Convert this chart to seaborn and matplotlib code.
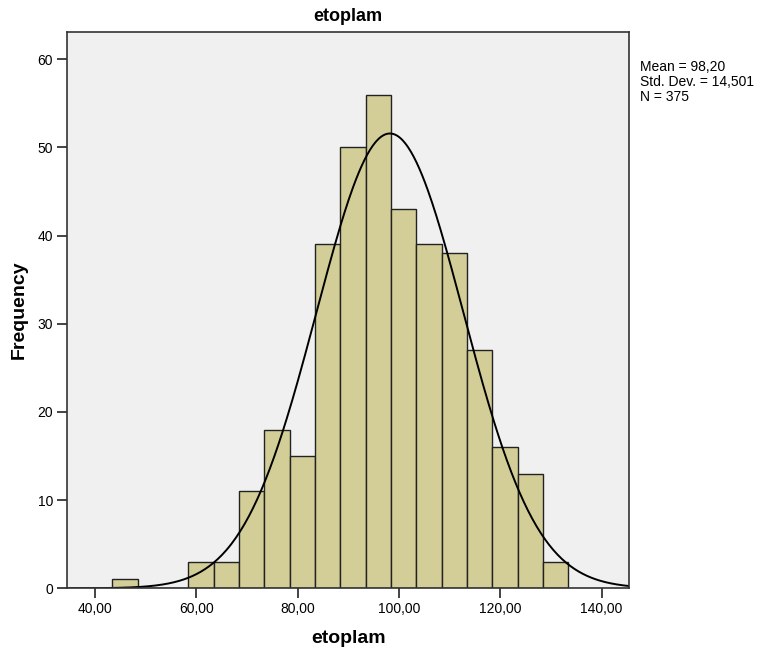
import numpy as np
import pandas as pd
import matplotlib
matplotlib.use("Agg")
import matplotlib.pyplot as plt
import seaborn as sns

# Data
bin_start = 43.45
bin_width = 5.0
counts = [1, 0, 0, 3, 3, 11, 18, 15, 39, 50, 56, 43, 39, 38, 27, 16, 13, 3]
mean_val = 98.20
sd_val = 14.501
n_val = 375
x_ticks = [40, 60, 80, 100, 120, 140]
x_tick_labels = ["40,00", "60,00", "80,00", "100,00", "120,00", "140,00"]
y_ticks = [0, 10, 20, 30, 40, 50, 60]

edges = [bin_start + bin_width * i for i in range(len(counts) + 1)]
centers = [(edges[i] + edges[i + 1]) / 2 for i in range(len(counts))]
df = pd.DataFrame({"etoplam": centers, "count": counts})

sns.set_style("white")
plt.rcParams["font.family"] = ["Liberation Sans", "DejaVu Sans"]
plt.rcParams["text.color"] = "black"
plt.rcParams["axes.labelcolor"] = "black"
plt.rcParams["xtick.color"] = "black"
plt.rcParams["ytick.color"] = "black"

fig = plt.figure(figsize=(7.62, 6.56), dpi=100)
ax = fig.add_axes([67 / 762, 1 - 588.3 / 656, (629.3 - 67) / 762, (588.3 - 31.7) / 656])
ax.set_facecolor("#F0F0F0")

sns.histplot(data=df, x="etoplam", weights="count", bins=edges, ax=ax,
             color="#D3CE97", edgecolor="#222222", linewidth=1.0, alpha=1.0)

xs = np.linspace(34.4, 145.5, 400)
ys = n_val * bin_width / (sd_val * np.sqrt(2 * np.pi)) * np.exp(-0.5 * ((xs - mean_val) / sd_val) ** 2)
sns.lineplot(x=xs, y=ys, ax=ax, color="black", linewidth=1.4)

ax.set_xlim(34.47, 145.45)
ax.set_ylim(0, 63.13)
ax.set_xticks(x_ticks)
ax.set_xticklabels(x_tick_labels, fontsize=10)
ax.set_yticks(y_ticks)
ax.set_yticklabels([str(v) for v in y_ticks], fontsize=10)
ax.tick_params(axis="both", which="major", bottom=True, left=True, direction="out",
               length=7, width=1.2, color="#222222", labelcolor="black", pad=3)

for s in ax.spines.values():
    s.set_visible(True)
    s.set_color("#333333")
    s.set_linewidth(1.2)

ax.set_xlabel("etoplam", fontsize=14, fontweight="bold", labelpad=10, color="black")
ax.set_ylabel("Frequency", fontsize=14, fontweight="bold", labelpad=7, color="black")
ax.set_title("etoplam", fontsize=13, fontweight="bold", pad=8, color="black")

fig.text(640 / 762, 1 - 60 / 656, "Mean = 98,20\nStd. Dev. = 14,501\nN = 375",
         fontsize=10, va="top", ha="left", linespacing=1.1, color="black")

fig.savefig("out.png", dpi=100)
